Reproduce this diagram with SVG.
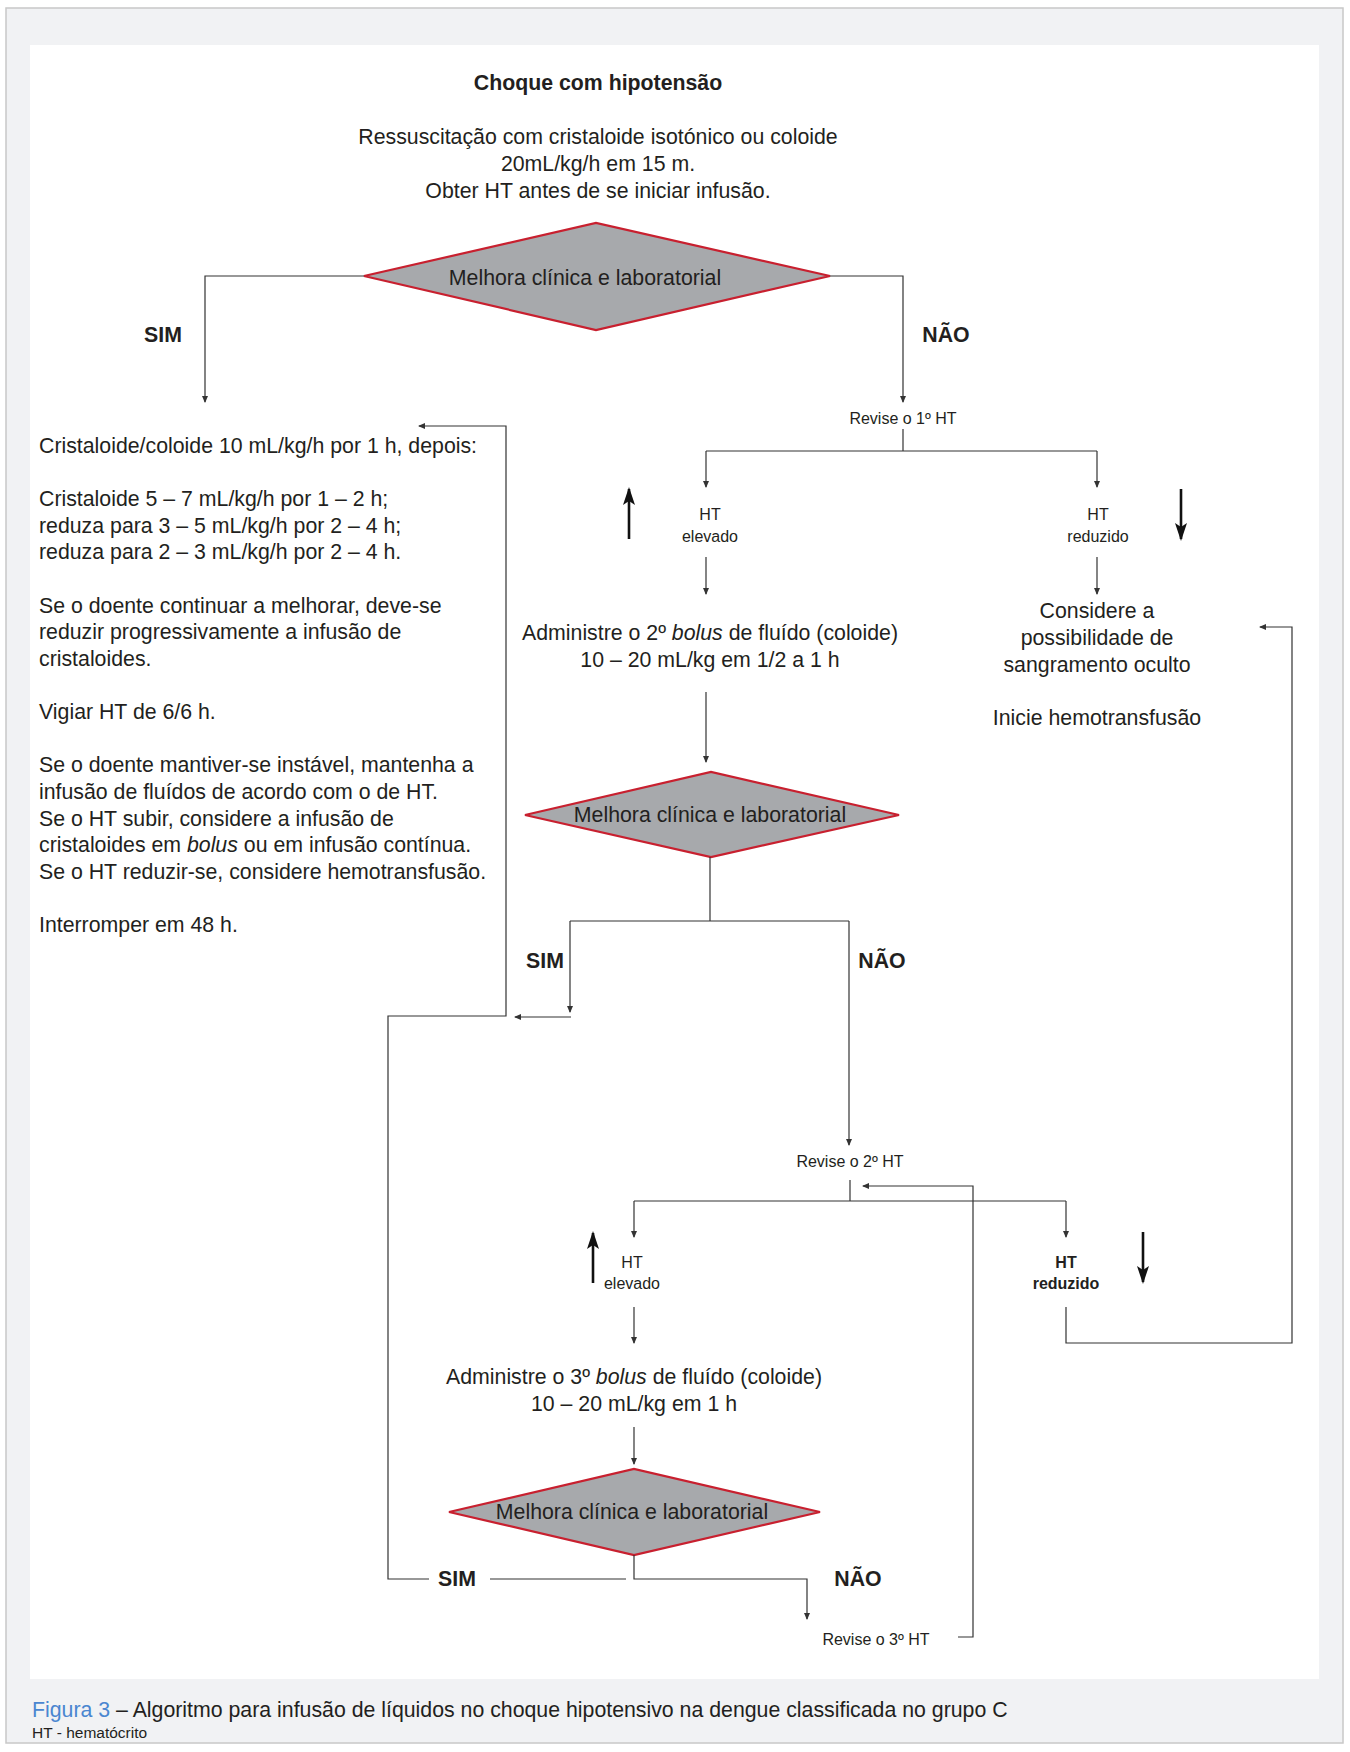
<svg xmlns="http://www.w3.org/2000/svg" width="1350" height="1752" viewBox="0 0 1350 1752">
<style>
text{font-family:"Liberation Sans",Arial,sans-serif;fill:#231f20}
.t21{font-size:21.3px}
.t16{font-size:16px}
.b{font-weight:bold}
.c{text-anchor:middle}
.ln{fill:none;stroke:#333;stroke-width:1.2}
.big{fill:none;stroke:#111;stroke-width:2.6}
.dia{fill:#a7a9ac;stroke:#c8202f;stroke-width:2.2}
</style>
<defs>
<marker id="a" markerUnits="userSpaceOnUse" markerWidth="7" markerHeight="6" refX="6" refY="3" orient="auto">
<path d="M0,0 L7,3 L0,6 z" fill="#333"/>
</marker>
<marker id="A" markerUnits="userSpaceOnUse" markerWidth="18" markerHeight="12" refX="16" refY="6" orient="auto">
<path d="M0,0 L18,6 L0,12 L4,6 z" fill="#111"/>
</marker>
</defs>
<rect x="6" y="8" width="1337" height="1735" fill="#f1f2f4" stroke="#c8c8c8" stroke-width="1.5"/>
<rect x="30" y="45" width="1289" height="1634" fill="#ffffff"/>

<g id="title"><text class="t21 b c" x="598" y="90">Choque com hipotensão</text></g>
<g id="start">
<text class="t21 c" x="598" y="144">Ressuscitação com cristaloide isotónico ou coloide</text>
<text class="t21 c" x="598" y="171">20mL/kg/h em 15 m.</text>
<text class="t21 c" x="598" y="198">Obter HT antes de se iniciar infusão.</text>
</g>
<g id="decision1">
<polygon class="dia" points="364,276 596,223 830,276 596,330"/>
<text class="t21 c" x="585" y="285">Melhora clínica e laboratorial</text>
</g>
<g id="sim1"><text class="t21 b c" x="163" y="342">SIM</text></g>
<g id="nao1"><text class="t21 b c" x="946" y="342">NÃO</text></g>
<g id="maintenance">
<text class="t21" x="39" y="452.7">Cristaloide/coloide 10 mL/kg/h por 1 h, depois:</text>
<text class="t21" x="39" y="506">Cristaloide 5 – 7 mL/kg/h por 1 – 2 h;</text>
<text class="t21" x="39" y="532.6">reduza para 3 – 5 mL/kg/h por 2 – 4 h;</text>
<text class="t21" x="39" y="559.2">reduza para 2 – 3 mL/kg/h por 2 – 4 h.</text>
<text class="t21" x="39" y="612.5">Se o doente continuar a melhorar, deve-se</text>
<text class="t21" x="39" y="639.1">reduzir progressivamente a infusão de</text>
<text class="t21" x="39" y="665.7">cristaloides.</text>
<text class="t21" x="39" y="719">Vigiar HT de 6/6 h.</text>
<text class="t21" x="39" y="772.3">Se o doente mantiver-se instável, mantenha a</text>
<text class="t21" x="39" y="798.9">infusão de fluídos de acordo com o de HT.</text>
<text class="t21" x="39" y="825.5">Se o HT subir, considere a infusão de</text>
<text class="t21" x="39" y="852.2">cristaloides em <tspan font-style="italic">bolus</tspan> ou em infusão contínua.</text>
<text class="t21" x="39" y="878.8">Se o HT reduzir-se, considere hemotransfusão.</text>
<text class="t21" x="39" y="932">Interromper em 48 h.</text>
</g>
<g id="revise1"><text class="t16 c" x="903" y="423.5">Revise o 1º HT</text></g>
<g id="ht1up">
<line class="big" x1="629" y1="539" x2="629" y2="489" marker-end="url(#A)"/>
<text class="t16 c" x="710" y="520">HT</text>
<text class="t16 c" x="710" y="542">elevado</text>
</g>
<g id="ht1down">
<line class="big" x1="1181" y1="489" x2="1181" y2="539" marker-end="url(#A)"/>
<text class="t16 c" x="1098" y="520">HT</text>
<text class="t16 c" x="1098" y="542">reduzido</text>
</g>
<g id="bolus2">
<text class="t21 c" x="710" y="640">Administre o 2º <tspan font-style="italic">bolus</tspan> de fluído (coloide)</text>
<text class="t21 c" x="710" y="667">10 – 20 mL/kg em 1/2 a 1 h</text>
</g>
<g id="bleeding">
<text class="t21 c" x="1097" y="618">Considere a</text>
<text class="t21 c" x="1097" y="645">possibilidade de</text>
<text class="t21 c" x="1097" y="672">sangramento oculto</text>
<text class="t21 c" x="1097" y="725">Inicie hemotransfusão</text>
</g>
<g id="decision2">
<polygon class="dia" points="525,815 711,772 899,815 711,857"/>
<text class="t21 c" x="710" y="822">Melhora clínica e laboratorial</text>
</g>
<g id="sim2"><text class="t21 b c" x="545" y="968">SIM</text></g>
<g id="nao2"><text class="t21 b c" x="882" y="968">NÃO</text></g>
<g id="revise2"><text class="t16 c" x="850" y="1166.5">Revise o 2º HT</text></g>
<g id="ht2up">
<line class="big" x1="593" y1="1283" x2="593" y2="1233" marker-end="url(#A)"/>
<text class="t16 c" x="632" y="1268">HT</text>
<text class="t16 c" x="632" y="1289">elevado</text>
</g>
<g id="ht2down">
<line class="big" x1="1143" y1="1232" x2="1143" y2="1282" marker-end="url(#A)"/>
<text class="t16 b c" x="1066" y="1268">HT</text>
<text class="t16 b c" x="1066" y="1289">reduzido</text>
</g>
<g id="bolus3">
<text class="t21 c" x="634" y="1384">Administre o 3º <tspan font-style="italic">bolus</tspan> de fluído (coloide)</text>
<text class="t21 c" x="634" y="1411">10 – 20 mL/kg em 1 h</text>
</g>
<g id="decision3">
<polygon class="dia" points="449,1512 634,1469 820,1512 634,1555"/>
<text class="t21 c" x="632" y="1519">Melhora clínica e laboratorial</text>
</g>
<g id="sim3"><text class="t21 b c" x="457" y="1586">SIM</text></g>
<g id="nao3"><text class="t21 b c" x="858" y="1586">NÃO</text></g>
<g id="revise3"><text class="t16 c" x="876" y="1644.5">Revise o 3º HT</text></g>

<g id="connectors">
<polyline class="ln" points="364,276 205,276 205,402" marker-end="url(#a)"/>
<polyline class="ln" points="830,276 903,276 903,402" marker-end="url(#a)"/>
<line class="ln" x1="903" y1="429" x2="903" y2="451"/>
<line class="ln" x1="706" y1="451" x2="1097" y2="451"/>
<line class="ln" x1="706" y1="451" x2="706" y2="487" marker-end="url(#a)"/>
<line class="ln" x1="1097" y1="451" x2="1097" y2="487" marker-end="url(#a)"/>
<line class="ln" x1="706" y1="557" x2="706" y2="594" marker-end="url(#a)"/>
<line class="ln" x1="1097" y1="557" x2="1097" y2="594" marker-end="url(#a)"/>
<line class="ln" x1="706" y1="692" x2="706" y2="762" marker-end="url(#a)"/>
<line class="ln" x1="710" y1="857" x2="710" y2="921"/>
<line class="ln" x1="570" y1="921" x2="849" y2="921"/>
<line class="ln" x1="570" y1="921" x2="570" y2="1012" marker-end="url(#a)"/>
<line class="ln" x1="849" y1="921" x2="849" y2="1145" marker-end="url(#a)"/>
<line class="ln" x1="571" y1="1017" x2="515" y2="1017" marker-end="url(#a)"/>
<polyline class="ln" points="429,1579 388,1579 388,1016 506,1016 506,426 419,426" marker-end="url(#a)"/>
<line class="ln" x1="850" y1="1180" x2="850" y2="1201"/>
<line class="ln" x1="634" y1="1201" x2="1066" y2="1201"/>
<line class="ln" x1="634" y1="1201" x2="634" y2="1237" marker-end="url(#a)"/>
<line class="ln" x1="1066" y1="1201" x2="1066" y2="1237" marker-end="url(#a)"/>
<line class="ln" x1="634" y1="1307" x2="634" y2="1343" marker-end="url(#a)"/>
<polyline class="ln" points="1066,1307 1066,1343 1292,1343 1292,627 1260,627" marker-end="url(#a)"/>
<line class="ln" x1="634" y1="1427" x2="634" y2="1464" marker-end="url(#a)"/>
<line class="ln" x1="490" y1="1579" x2="626" y2="1579"/>
<polyline class="ln" points="634,1555 634,1579 807,1579 807,1619" marker-end="url(#a)"/>
<polyline class="ln" points="958,1637 973,1637 973,1186 863,1186" marker-end="url(#a)"/>
</g>

<g id="caption">
<text x="32" y="1717" font-size="21.3px"><tspan fill="#4a86d0">Figura 3</tspan> – Algoritmo para infusão de líquidos no choque hipotensivo na dengue classificada no grupo C</text>
<text x="32" y="1738" font-size="15.5px">HT - hematócrito</text>
</g>
</svg>
